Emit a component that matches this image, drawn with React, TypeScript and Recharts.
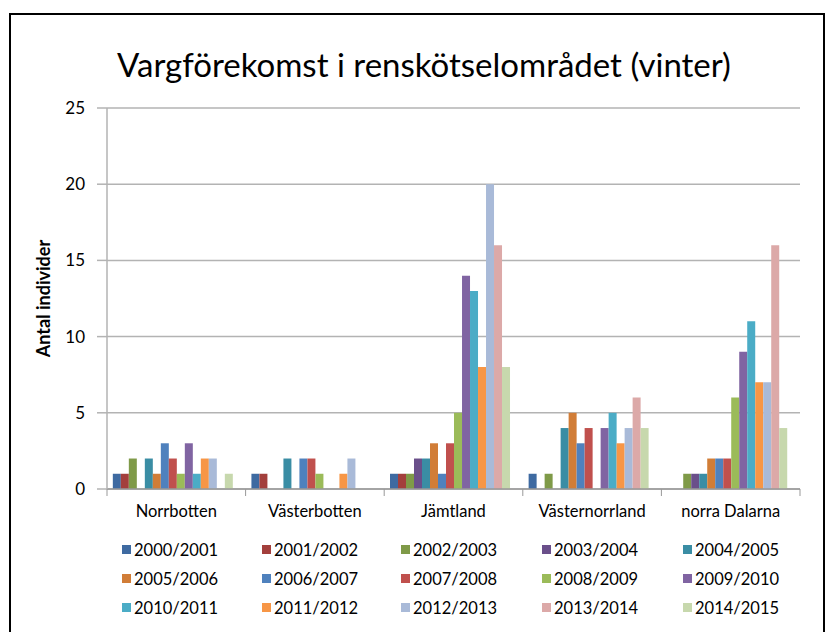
import React from 'react'
import { BarChart, Bar, XAxis, YAxis, CartesianGrid, Legend } from 'recharts'

const regions = ['Norrbotten', 'Västerbotten', 'Jämtland', 'Västernorrland', 'norra Dalarna']

const seasons = [
  '2000/2001', '2001/2002', '2002/2003', '2003/2004', '2004/2005',
  '2005/2006', '2006/2007', '2007/2008', '2008/2009', '2009/2010',
  '2010/2011', '2011/2012', '2012/2013', '2013/2014', '2014/2015',
]

// one row per season, one value per region (same order as regions)
const s2000 = [1, 1, 1, 1, 0]
const s2001 = [1, 1, 1, 0, 0]
const s2002 = [2, 0, 1, 1, 1]
const s2003 = [0, 0, 2, 0, 1]
const s2004 = [2, 2, 2, 4, 1]
const s2005 = [1, 0, 3, 5, 2]
const s2006 = [3, 2, 1, 3, 2]
const s2007 = [2, 2, 3, 4, 2]
const s2008 = [1, 1, 5, 0, 6]
const s2009 = [3, 0, 14, 4, 9]
const s2010 = [1, 0, 13, 5, 11]
const s2011 = [2, 1, 8, 3, 7]
const s2012 = [2, 2, 20, 4, 7]
const s2013 = [0, 0, 16, 6, 16]
const s2014 = [1, 0, 8, 4, 4]

const seasonValues = [
  s2000, s2001, s2002, s2003, s2004, s2005, s2006, s2007,
  s2008, s2009, s2010, s2011, s2012, s2013, s2014,
]

const colors = [
  '#3E6AA1', '#A33F3C', '#7F9A48', '#6A4F8A', '#3A8DA4',
  '#D17D37', '#4F81BD', '#C0504D', '#9BBB59', '#8064A2',
  '#4BACC6', '#F79646', '#A9BAD8', '#DCA9A8', '#C7D8AD',
]

const yTicks = [0, 5, 10, 15, 20, 25]

const chartData = regions.map((name, i) => {
  const row: Record<string, string | number> = { name }
  seasons.forEach((s, j) => {
    row[s] = seasonValues[j][i]
  })
  return row
})

const FONT = 'Lato, "Open Sans", sans-serif'
const BAND = 693 / regions.length

function RegionTick(props: any) {
  const { x, y, payload, index } = props
  const left = x - BAND / 2
  return (
    <g>
      <line x1={left} y1={489} x2={left} y2={496} stroke="#999" />
      {index === regions.length - 1 && (
        <line x1={x + BAND / 2} y1={489} x2={x + BAND / 2} y2={496} stroke="#999" />
      )}
      <text x={x} y={y + 20} textAnchor="middle" fontSize={16.5} fill="#000" fontFamily={FONT}>
        {payload.value}
      </text>
    </g>
  )
}

function SeasonLegend() {
  return (
    <div
      style={{
        display: 'grid',
        gridTemplateColumns: '140px 139px 141px 141px 140px',
        rowGap: 0,
        paddingLeft: 122,
        fontFamily: FONT,
        fontSize: 16.5,
        color: '#000',
      }}
    >
      {seasons.map((s, i) => (
        <div key={s} style={{ display: 'flex', alignItems: 'center', height: 29 }}>
          <span style={{ width: 9, height: 9, background: colors[i], marginRight: 3, display: 'inline-block' }} />
          <span>{s}</span>
        </div>
      ))}
    </div>
  )
}

export default function App() {
  return (
    <div style={{ position: 'absolute', left: 0, top: 0, width: 830, height: 632, background: '#fff', overflow: 'hidden' }}>
      <div
        style={{
          position: 'absolute',
          left: 9,
          top: 13,
          width: 812,
          height: 640,
          border: '2px solid #000',
        }}
      />
      <div
        style={{
          position: 'absolute',
          left: 0,
          top: 44,
          width: 848,
          textAlign: 'center',
          fontFamily: FONT,
          fontSize: 33,
          color: '#000',
        }}
      >
        Vargförekomst i renskötselområdet (vinter)
      </div>
      <div style={{ position: 'absolute', left: 0, top: 0 }}>
        <BarChart
          width={830}
          height={632}
          data={chartData}
          margin={{ top: 108, right: 30, left: 0, bottom: 23 }}
          barCategoryGap="4.2%"
          barGap={0}
        >
          <CartesianGrid vertical={false} stroke="#B3B3B3" strokeWidth={1.5} />
          <XAxis
            dataKey="name"
            height={30}
            axisLine={{ stroke: '#999', strokeWidth: 1.5 }}
            tickLine={false}
            tick={<RegionTick />}
            interval={0}
          />
          <YAxis
            width={107}
            domain={[0, 25]}
            ticks={yTicks}
            interval={0}
            axisLine={{ stroke: '#B3B3B3', strokeWidth: 1.5 }}
            tickLine={{ stroke: '#B3B3B3', strokeWidth: 1.5 }}
            tickSize={10}
            tickMargin={12}
            tick={{ fontSize: 17, fill: '#000', fontFamily: FONT }}
            label={{
              content: (p: any) => {
                const vb = p.viewBox
                const cy = vb.y + vb.height / 2
                return (
                  <text
                    x={43}
                    y={cy}
                    transform={`rotate(-90 43 ${cy})`}
                    textAnchor="middle"
                    dominantBaseline="central"
                    fontSize={18}
                    fontWeight="bold"
                    fontFamily={FONT}
                    fill="#000"
                  >
                    Antal individer
                  </text>
                )
              },
            }}
          />
          <Legend
            content={<SeasonLegend />}
            wrapperStyle={{ top: 535, bottom: 'auto', left: 0, width: 830, height: 90 }}
          />
          {seasons.map((s, i) => (
            <Bar key={s} dataKey={s} fill={colors[i]} isAnimationActive={false} />
          ))}
        </BarChart>
      </div>
    </div>
  )
}
